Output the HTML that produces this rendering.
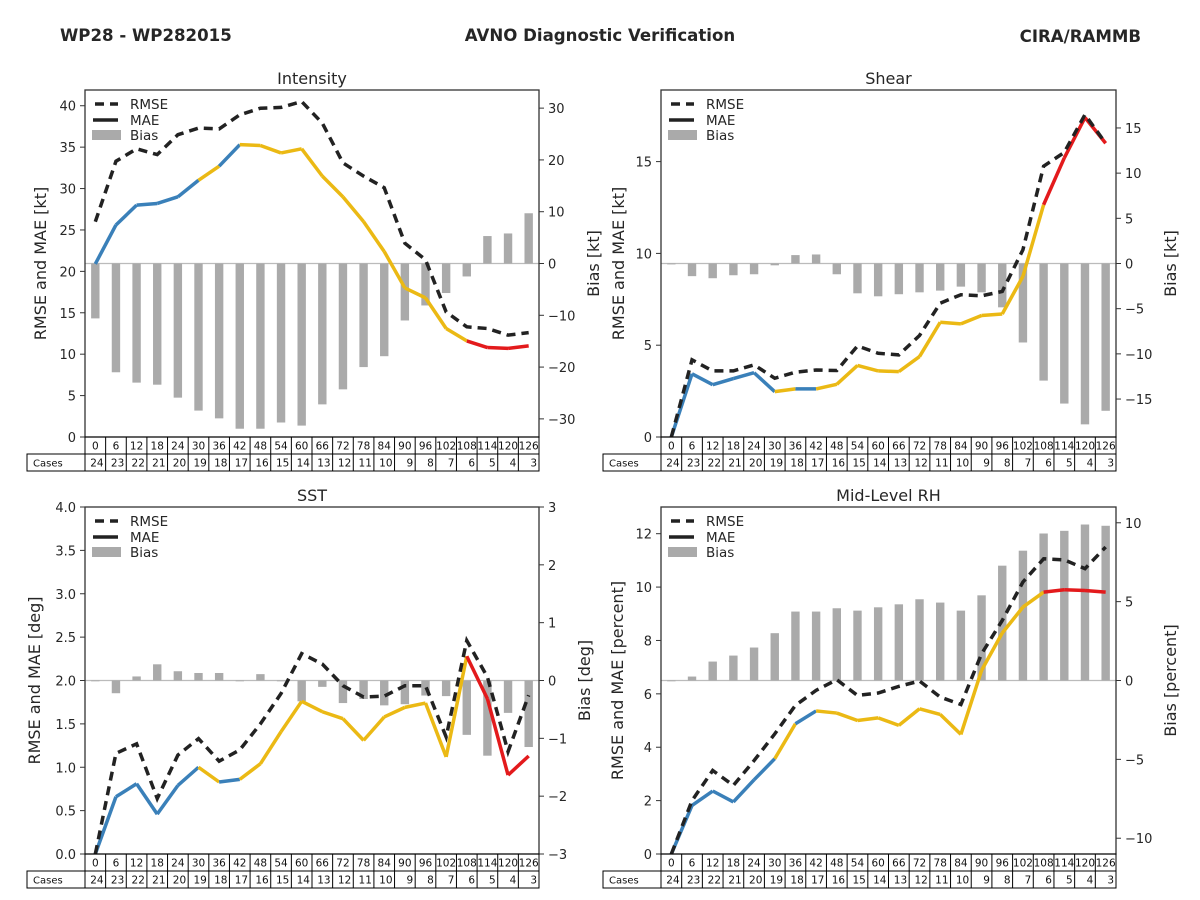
<!DOCTYPE html>
<html><head><meta charset="utf-8"><style>
html,body{margin:0;padding:0;background:#fff;}
svg{display:block;font-family:"DejaVu Sans","Liberation Sans",sans-serif;}
</style></head><body>
<svg id="chart" width="1200" height="900" viewBox="0 0 1200 900">
<text x="60" y="41" font-size="16.6" font-weight="bold" fill="#262626">WP28 - WP282015</text>
<text x="600" y="41" font-size="16.6" font-weight="bold" fill="#262626" text-anchor="middle">AVNO Diagnostic Verification</text>
<text x="1141" y="42" font-size="16.6" font-weight="bold" fill="#262626" text-anchor="end">CIRA/RAMMB</text>
</svg>
<script>
const hours=[0,6,12,18,24,30,36,42,48,54,60,66,72,78,84,90,96,102,108,114,120,126];
const cases=[24,23,22,21,20,19,18,17,16,15,14,13,12,11,10,9,8,7,6,5,4,3];
// segment colour codes (segment i goes from point i to i+1): b=blue, y=yellow, r=red
const segColors=['b','b','b','b','b','y','b','y','y','y','y','y','y','y','y','y','y','y','r','r','r'];
const intensityMAE=[20.9,25.6,28.0,28.2,29.0,31.0,32.7,35.3,35.2,34.3,34.8,31.5,29.0,26.0,22.4,18.0,16.8,13.1,11.6,10.8,10.7,11.0];
const intensityRMSE=[26.0,33.3,34.8,34.1,36.5,37.3,37.2,38.9,39.7,39.8,40.5,37.9,33.1,31.5,30.1,23.4,21.4,15.1,13.3,13.1,12.3,12.6];
const intensityBias=[-10.6,-21.0,-23.0,-23.4,-25.9,-28.4,-29.9,-31.9,-31.9,-30.7,-31.3,-27.2,-24.3,-20.0,-17.9,-11.0,-8.1,-5.7,-2.5,5.3,5.8,9.7];
const shearMAE=[0,3.44,2.85,3.18,3.5,2.47,2.62,2.62,2.87,3.9,3.6,3.56,4.38,6.25,6.16,6.62,6.7,8.75,12.65,15.2,17.4,16.0];
const shearRMSE=[0,4.2,3.6,3.6,3.93,3.2,3.53,3.65,3.62,4.96,4.56,4.47,5.53,7.29,7.75,7.69,7.93,10.2,14.75,15.5,17.56,16.0];
const shearBias=[-0.1,-1.4,-1.63,-1.3,-1.19,-0.2,0.93,1.0,-1.19,-3.3,-3.63,-3.4,-3.19,-3.0,-2.56,-3.19,-4.85,-8.74,-12.96,-15.5,-17.8,-16.3];
const sstMAE=[0,0.66,0.81,0.46,0.79,1.0,0.83,0.86,1.04,1.41,1.76,1.64,1.56,1.31,1.58,1.69,1.74,1.12,2.28,1.79,0.91,1.13];
const sstRMSE=[0,1.16,1.27,0.64,1.14,1.33,1.07,1.2,1.5,1.85,2.31,2.19,1.94,1.81,1.82,1.94,1.94,1.35,2.46,2.04,1.18,1.83];
const sstBias=[0,-0.22,0.07,0.28,0.16,0.13,0.13,0,0.11,0,-0.36,-0.11,-0.39,-0.32,-0.43,-0.41,-0.26,-0.27,-0.94,-1.3,-0.56,-1.15];
const rhMAE=[0,1.82,2.36,1.95,2.78,3.57,4.88,5.36,5.28,5.0,5.1,4.82,5.44,5.23,4.48,6.88,8.28,9.25,9.81,9.9,9.87,9.81];
const rhRMSE=[0,2.0,3.13,2.57,3.5,4.5,5.57,6.13,6.53,5.94,6.03,6.28,6.48,5.88,5.6,7.5,8.75,10.19,11.06,11.02,10.69,11.5];
const rhBias=[0,0.25,1.2,1.58,2.09,3.0,4.37,4.37,4.58,4.43,4.64,4.83,5.15,4.94,4.43,5.4,7.28,8.23,9.32,9.49,9.89,9.81];
const intensityLeftTicks=[0,5,10,15,20,25,30,35,40];
const intensityRightTicks=[-30,-20,-10,0,10,20,30];
const shearLeftTicks=[0,5,10,15];
const shearRightTicks=[-15,-10,-5,0,5,10,15];
const sstLeftTicks=[0,0.5,1,1.5,2,2.5,3,3.5,4];
const sstRightTicks=[-3,-2,-1,0,1,2,3];
const rhLeftTicks=[0,2,4,6,8,10,12];
const rhRightTicks=[-10,-5,0,5,10];

const NS='http://www.w3.org/2000/svg';
const svg=document.getElementById('chart');
const COL={b:'#3a80b9',y:'#ebb914',r:'#e31a1c'};
function mk(tag,attrs,parent){const e=document.createElementNS(NS,tag);for(const k in attrs)e.setAttribute(k,attrs[k]);(parent||svg).appendChild(e);return e;}
function fmt(v,dec){let s=dec?v.toFixed(1):String(v);return s.replace('-','\u2212');}

function panel(p){
  const g=mk('g',{});
  
  
  const L=p.x0,R=p.x1,T=p.y0,B=p.y1,W=R-L,n=hours.length,cw=W/n;
  const xs=i=>L+cw*(i+0.5);
  const yl=v=>B-(v-p.lmin)/(p.lmax-p.lmin)*(B-T);
  const yr=v=>B-(v-p.rmin)/(p.rmax-p.rmin)*(B-T);
  const t=mk('text',{x:(L+R)/2,y:T-6,'font-size':16,'text-anchor':'middle',fill:'#262626'},g);t.textContent=p.title;
  
  
  const z=mk('line',{x1:L,x2:R,y1:yr(0),y2:yr(0),stroke:'#bbb','stroke-width':1.2},g);
  
  
  p.bias.forEach((v,i)=>{
    const y0=yr(0),y1=yr(v);
    const b=mk('rect',{x:xs(i)-4.2,y:Math.min(y0,y1),width:8.4,height:Math.max(0.8,Math.abs(y1-y0)),fill:'#aaaaaa'},g);
    
    
  });
  for(let i=0;i<n-1;i++){
    const s=mk('line',{x1:xs(i),y1:yl(p.mae[i]),x2:xs(i+1),y2:yl(p.mae[i+1]),stroke:COL[segColors[i]],'stroke-width':3.5,'stroke-linecap':'butt'},g);
    
    
  }
  const pts=p.rmse.map((v,i)=>xs(i)+','+yl(v)).join(' ');
  const rl=mk('polyline',{points:pts,fill:'none',stroke:'#222','stroke-width':3.5,'stroke-dasharray':'9,6'},g);
  
  
  const fr=mk('rect',{x:L,y:T,width:W,height:B-T,fill:'none',stroke:'#333','stroke-width':1.3},g);
  
  
  p.lticks.forEach(v=>{
    const y=yl(v);
    mk('line',{x1:L-5,x2:L,y1:y,y2:y,stroke:'#333'},g);
    const tx=mk('text',{x:L-9,y:y+5,'font-size':13,'text-anchor':'end',fill:'#262626'},g);tx.textContent=fmt(v,p.ldec);
    
    
  });
  p.rticks.forEach(v=>{
    const y=yr(v);
    mk('line',{x1:R,x2:R+5,y1:y,y2:y,stroke:'#333'},g);
    const tx=mk('text',{x:R+9,y:y+5,'font-size':13,fill:'#262626'},g);tx.textContent=fmt(v,false);
    
    
  });
  const ly=(T+B)/2;
  const la=mk('text',{x:0,y:0,'font-size':16,'text-anchor':'middle',fill:'#262626',transform:`translate(${p.llx},${ly}) rotate(-90)`},g);la.textContent=p.llabel;
  
  
  const ra=mk('text',{x:0,y:0,'font-size':16,'text-anchor':'middle',fill:'#262626',transform:`translate(${p.rlx},${ly}) rotate(-90)`},g);ra.textContent=p.rlabel;
  
  
  const lg=mk('g',{},g);
  
  
  mk('line',{x1:L+10,x2:L+33,y1:T+14,y2:T+14,stroke:'#222','stroke-width':3.5,'stroke-dasharray':'9,6'},lg);
  mk('line',{x1:L+8,x2:L+33,y1:T+30,y2:T+30,stroke:'#222','stroke-width':3.5},lg);
  mk('rect',{x:L+7,y:T+40,width:29,height:10,fill:'#aaa'},lg);
  [['RMSE',T+19],['MAE',T+35],['Bias',T+50]].forEach(([s,y])=>{const e=mk('text',{x:L+45,y:y,'font-size':13.5,fill:'#262626'},lg);e.textContent=s;
    
    });
  const tb=mk('g',{'font-size':10.5,fill:'#111'},g);
  
  
  const r1=B,r2=B+17,r3=B+34;
  mk('rect',{x:L,y:r1,width:W,height:17,fill:'none',stroke:'#000'},tb);
  mk('rect',{x:L-58,y:r2,width:W+58,height:17,fill:'none',stroke:'#000'},tb);
  mk('line',{x1:L,x2:L,y1:r2,y2:r3,stroke:'#000'},tb);
  const cl=mk('text',{x:L-52,y:r2+12.5,'font-size':10},tb);cl.textContent='Cases';
  for(let i=0;i<n;i++){
    if(i>0){mk('line',{x1:L+cw*i,x2:L+cw*i,y1:r1,y2:r3,stroke:'#000'},tb);}
    const h=mk('text',{x:xs(i),y:r1+12.5,'text-anchor':'middle'},tb);h.textContent=hours[i];
    const c=mk('text',{x:L+cw*(i+1)-2,y:r2+12.5,'text-anchor':'end'},tb);c.textContent=cases[i];
  }
}
panel({key:'intensity',title:'Intensity',x0:85,x1:539,y0:90,y1:437,lmin:0,lmax:41.9,rmin:-33.5,rmax:33.5,mae:intensityMAE,rmse:intensityRMSE,bias:intensityBias,lticks:intensityLeftTicks,rticks:intensityRightTicks,ldec:false,llabel:'RMSE and MAE [kt]',rlabel:'Bias [kt]',llx:46,rlx:599});
panel({key:'shear',title:'Shear',x0:661,x1:1116,y0:90,y1:437,lmin:0,lmax:18.9,rmin:-19.2,rmax:19.2,mae:shearMAE,rmse:shearRMSE,bias:shearBias,lticks:shearLeftTicks,rticks:shearRightTicks,ldec:false,llabel:'RMSE and MAE [kt]',rlabel:'Bias [kt]',llx:624,rlx:1176});
panel({key:'sst',title:'SST',x0:85,x1:539,y0:507,y1:854,lmin:0,lmax:4,rmin:-3,rmax:3,mae:sstMAE,rmse:sstRMSE,bias:sstBias,lticks:sstLeftTicks,rticks:sstRightTicks,ldec:true,llabel:'RMSE and MAE [deg]',rlabel:'Bias [deg]',llx:40,rlx:590});
panel({key:'rh',title:'Mid-Level RH',x0:661,x1:1116,y0:507,y1:854,lmin:0,lmax:13,rmin:-11,rmax:11,mae:rhMAE,rmse:rhRMSE,bias:rhBias,lticks:rhLeftTicks,rticks:rhRightTicks,ldec:false,llabel:'RMSE and MAE [percent]',rlabel:'Bias [percent]',llx:623,rlx:1176});
</script>
</body></html>
